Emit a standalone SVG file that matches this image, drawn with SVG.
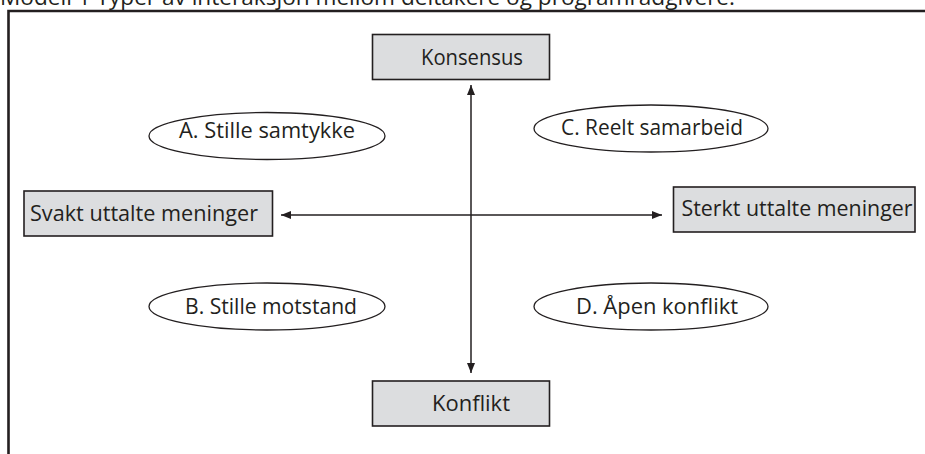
<svg xmlns="http://www.w3.org/2000/svg" width="925" height="454" viewBox="0 0 925 454">
<defs>
<style>
text{font-family:"Open Sans","Noto Sans",sans-serif;font-size:21.5px;fill:#231f20;text-anchor:middle}
.box{fill:#dcdddf;stroke:#231f20;stroke-width:1.6}
.ell{fill:#fff;stroke:#231f20;stroke-width:1.3}
.con{stroke:#231f20;stroke-width:1.5;fill:none}
</style>
<marker id="ah" viewBox="0 0 10 8" refX="10" refY="4" markerWidth="10" markerHeight="8" markerUnits="userSpaceOnUse" orient="auto-start-reverse">
<path d="M0,0 L10,4 L0,8 Z" fill="#231f20"/>
</marker>
</defs>
<rect width="925" height="454" fill="#fff"/>
<text x="0" y="4.5" style="text-anchor:start" textLength="735" lengthAdjust="spacingAndGlyphs">Modell 1 Typer av interaksjon mellom deltakere og programrådgivere.</text>
<path d="M8.5,470 L8.5,11 L940,11" fill="none" stroke="#231f20" stroke-width="2.6"/>
<g id="connectors">
<line class="con" x1="471" y1="85" x2="471" y2="373" marker-start="url(#ah)" marker-end="url(#ah)"/>
<line class="con" x1="281" y1="215" x2="662" y2="215" marker-start="url(#ah)" marker-end="url(#ah)"/>
</g>
<g id="konsensus"><rect class="box" x="372.5" y="34.5" width="177" height="45"/><text x="472" y="65" textLength="102" lengthAdjust="spacingAndGlyphs">Konsensus</text></g>
<g id="konflikt"><rect class="box" x="372.5" y="381" width="177" height="45"/><text x="471" y="411" textLength="78" lengthAdjust="spacingAndGlyphs">Konflikt</text></g>
<g id="svakt"><rect class="box" x="24" y="191" width="248.5" height="45"/><text x="144" y="220.5" textLength="228" lengthAdjust="spacingAndGlyphs">Svakt uttalte meninger</text></g>
<g id="sterkt"><rect class="box" x="673.5" y="187" width="241.5" height="45"/><text x="797" y="216" textLength="231" lengthAdjust="spacingAndGlyphs">Sterkt uttalte meninger</text></g>
<g id="a"><ellipse class="ell" cx="267" cy="136" rx="118" ry="23.5"/><text x="267" y="137.5" textLength="176" lengthAdjust="spacingAndGlyphs">A. Stille samtykke</text></g>
<g id="c"><ellipse class="ell" cx="651" cy="128.5" rx="117" ry="23.5"/><text x="652" y="135" textLength="182" lengthAdjust="spacingAndGlyphs">C. Reelt samarbeid</text></g>
<g id="b"><ellipse class="ell" cx="267" cy="306.5" rx="118" ry="23.5"/><text x="271" y="313.5" textLength="172" lengthAdjust="spacingAndGlyphs">B. Stille motstand</text></g>
<g id="d"><ellipse class="ell" cx="651" cy="306.5" rx="117" ry="23.5"/><text x="657" y="314" textLength="162" lengthAdjust="spacingAndGlyphs">D. Åpen konflikt</text></g>
</svg>
